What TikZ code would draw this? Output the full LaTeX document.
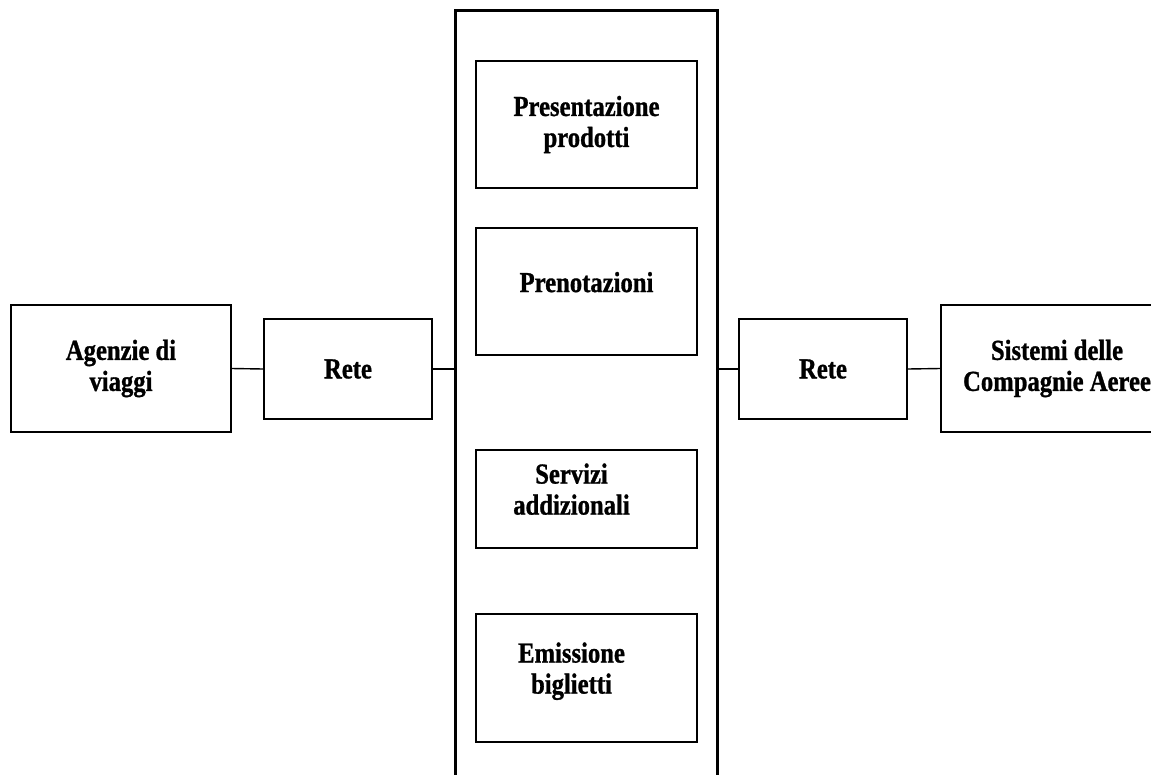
\documentclass[tikz,border=0pt]{standalone}
\usepackage{fontspec}
\setmainfont{Liberation Serif}
\newfontfamily\boxfont[FakeStretch=0.85,FakeBold=1]{Liberation Serif}
\begin{document}
\begin{tikzpicture}[x=1pt,y=-1pt,
    box/.style={draw, line width=1.4pt, align=center, inner sep=0pt,
        font=\boxfont\bfseries\fontsize{29}{31}\selectfont},
    link/.style={line width=1.4pt}]
    \useasboundingbox (0,0) rectangle (1151,774);
    % central system column
    \node[draw, line width=3pt, minimum width=262pt, minimum height=780pt] (sistema) at (586,400) {};
    \node[box, minimum width=221pt, minimum height=127pt] (presentazione) at (586.5,124.5) {Presentazione\\prodotti};
    \node[box, minimum width=221pt, minimum height=127pt] (prenotazioni) at (586.5,291.5) {Prenotazioni\\[-12pt]};
    \node[box, minimum width=221pt, minimum height=98pt] (servizi) at (586.5,499) {\mbox{Servizi\hspace{30pt}}\\\mbox{addizionali\hspace{30pt}}\\[-11pt]};
    \node[box, minimum width=221pt, minimum height=128pt] (emissione) at (586.5,678) {\mbox{Emissione\hspace{30pt}}\\\mbox{biglietti\hspace{30pt}}\\[-11pt]};
    % left and right sides
    \node[box, minimum width=220pt, minimum height=127pt] (agenzie) at (121,368.5) {Agenzie di\\viaggi};
    \node[box, minimum width=168pt, minimum height=100pt] (reteA) at (348,369) {Rete};
    \node[box, minimum width=168pt, minimum height=100pt] (reteB) at (823,369) {Rete};
    \node[box, minimum width=232pt, minimum height=127pt] (compagnie) at (1057,368.5) {Sistemi delle\\Compagnie Aeree};
    \draw[link] (agenzie.east) -- (reteA.west);
    \draw[link] (reteA.east) -- (reteA.east -| sistema.west);
    \draw[link] (reteB.west) -- (reteB.west -| sistema.east);
    \draw[link] (reteB.east) -- (compagnie.west);
\end{tikzpicture}
\end{document}
